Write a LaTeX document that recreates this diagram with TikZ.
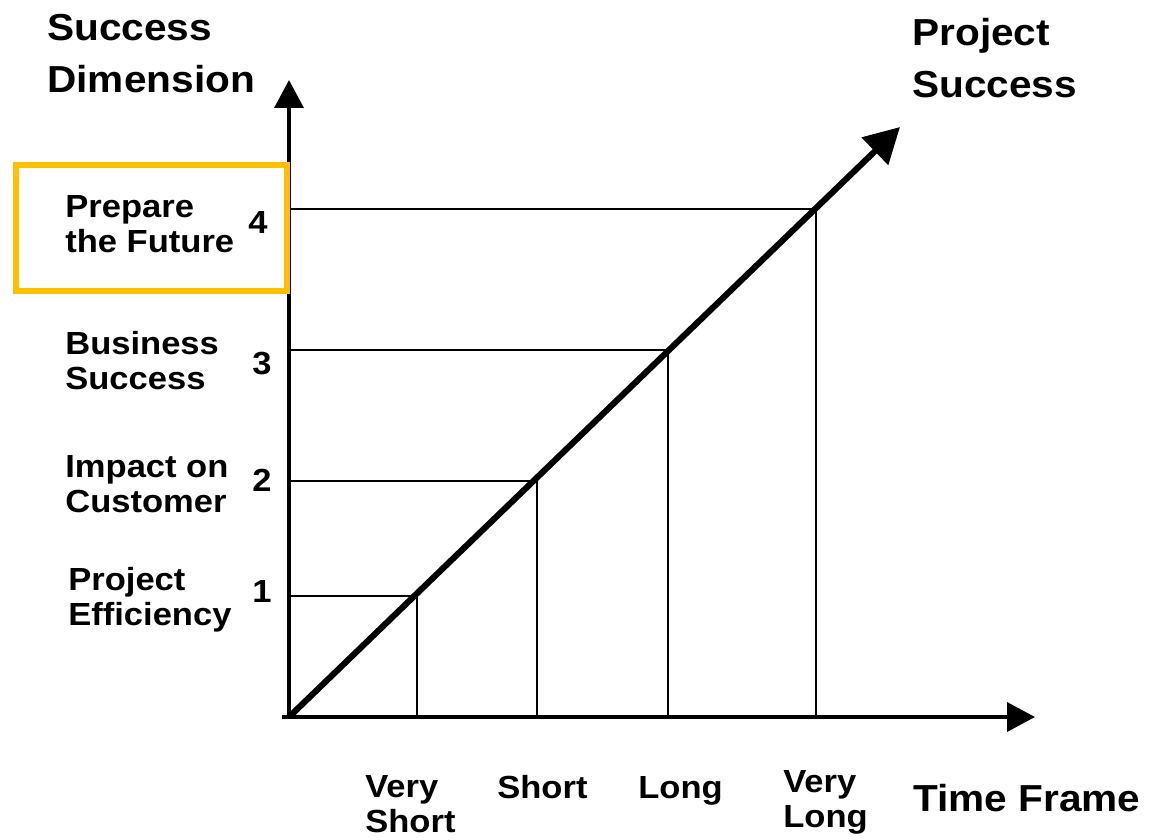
\documentclass[tikz,border=0pt]{standalone}
\usepackage{fontspec}
\setmainfont[FakeStretch=1.08]{Liberation Sans}
\usetikzlibrary{arrows.meta}
\definecolor{boxgold}{HTML}{FFC000}
\tikzset{
  dimtext/.style={anchor=west, align=left, inner sep=0pt, text depth=0pt, font=\bfseries\fontsize{18.2}{19.9}\selectfont},
  title/.style={anchor=west, align=left, inner sep=0pt, text depth=0pt, font=\bfseries\fontsize{21.4}{29.5}\selectfont},
  levelnum/.style={inner sep=0pt, font=\bfseries\fontsize{18.2}{20}\selectfont},
  guide/.style={line width=1.1pt},
  axis/.style={line width=2pt, -{Triangle[length=0.56cm,width=0.58cm]}},
}

\begin{document}
\begin{tikzpicture}[x=0.02cm,y=-0.02cm]
			%%%%% START %%%%%
			\useasboundingbox (0,0) rectangle (1153,839);
			
			\coordinate (O) at (289,717);
			\coordinate (ytip) at (289,80);
			\coordinate (xtip) at (1035,717);
			\coordinate (dtip) at (900,127);
			
			\coordinate (p1) at (417,596);
			\coordinate (p2) at (537,481);
			\coordinate (p3) at (668,350);
			\coordinate (p4) at (816,209);
			
			\draw[guide] (O |- p1) -- (p1) -- (O -| p1);
			\draw[guide] (O |- p2) -- (p2) -- (O -| p2);
			\draw[guide] (O |- p3) -- (p3) -- (O -| p3);
			\draw[guide] (O |- p4) -- (p4) -- (O -| p4);
			
			\draw[axis] (O) -- (ytip);
			\draw[axis] ([xshift=-4]O) -- (xtip);
			\draw[line width=3.5pt, -{Triangle[length=0.7cm,width=0.74cm]}] (O) -- (dtip);
			
			\coordinate (boxa) at (16,165);
			\coordinate (boxb) at (287,291);
			\draw[boxgold, line width=3.4pt] (boxa) rectangle (boxb);
			
			\node[title] (ydim) at (47,53) {Success\\Dimension};
			\node[title] (psucc) at (912,58) {Project\\Success};
			\node[title] (tframe) at (913,798) {Time Frame};
			
			\node[dimtext] (future) at (65,224) {Prepare\\the Future};
			\node[dimtext] (business) at (65,360) {Business\\Success};
			\node[dimtext] (impact) at (65,484) {Impact on\\Customer};
			\node[dimtext] (effic) at (68,596) {Project\\Efficiency};
			
			\node[levelnum] (n4) at (258,222) {4};
			\node[levelnum] (n3) at (262,364) {3};
			\node[levelnum] (n2) at (262,480) {2};
			\node[levelnum] (n1) at (262,591) {1};
			
			\node[dimtext] (vshort) at (365,804) {Very\\Short};
			\node[dimtext] (short) at (497,787) {Short};
			\node[dimtext] (long) at (638,787) {Long};
			\node[dimtext] (vlong) at (783,799) {Very\\Long};
			
			%%%%% END %%%%%
\end{tikzpicture}
\end{document}
